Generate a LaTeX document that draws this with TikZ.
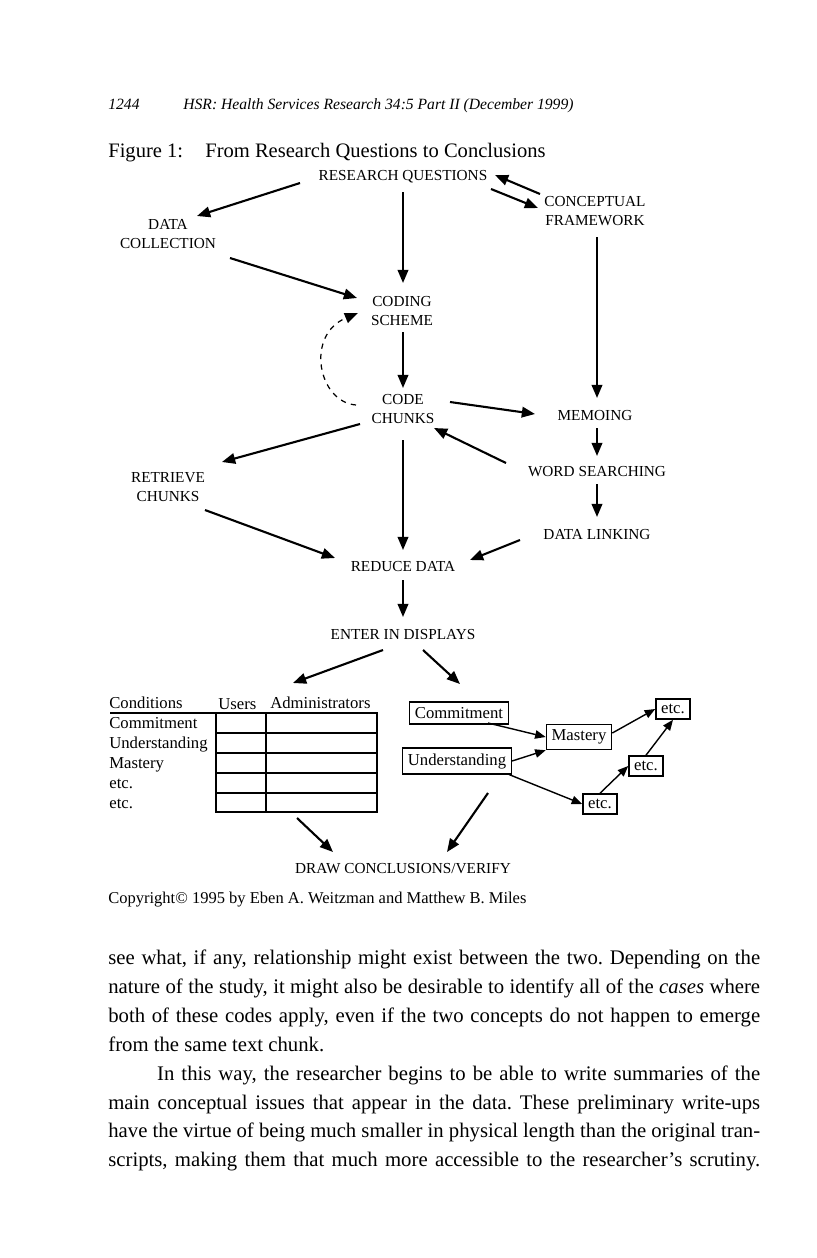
\documentclass[tikz,border=0pt]{standalone}
\usepackage{fontspec}
\setmainfont{Liberation Serif}
\usetikzlibrary{arrows.meta,calc}

\begin{document}
\begin{tikzpicture}[
    x=0.02cm, y=-0.02cm,
    lbl/.style={font=\fontsize{8.7}{10.8}\selectfont, align=center, inner sep=1pt},
    arrow/.style={-{Triangle[length=7.5pt,width=6pt]}, line width=1.2pt},
    cbox/.style={draw, line width=0.8pt, inner xsep=3pt, inner ysep=3pt, font=\fontsize{9.5}{11}\selectfont},
    sarrow/.style={-{Triangle[length=6pt,width=4.8pt]}, line width=0.8pt},
    tbl/.style={font=\fontsize{9.5}{11}\selectfont, inner sep=0pt, anchor=base west},
    grid/.style={line width=0.7pt}
]
\useasboundingbox (0,0) rectangle (816,1258);
\fill[white] (0,0) rectangle (816,1258);

% Page head and caption
\node[font=\fontsize{8.9}{11}\selectfont\itshape, anchor=base west, inner sep=0pt] (pnum) at (108,109) {1244};
\node[font=\fontsize{8.9}{11}\selectfont\itshape, anchor=base west, inner sep=0pt] (jrnl) at (183,109) {HSR: Health Services Research 34:5 Part II (December 1999)};
\node[font=\fontsize{11.7}{14}\selectfont, anchor=base west, inner sep=0pt] (fignum) at (108,157) {Figure 1:};
\node[font=\fontsize{11.7}{14}\selectfont, anchor=base west, inner sep=0pt] (figttl) at (205,157) {From Research Questions to Conclusions};

% Flow
\node[lbl] (rq) at (403,177) {RESEARCH QUESTIONS};
\node[lbl] (cf) at (595,211) {CONCEPTUAL\\FRAMEWORK};
\node[lbl] (dc) at (168,234) {DATA\\COLLECTION};
\node[lbl] (cs) at (402,311) {CODING\\SCHEME};
\node[lbl] (cc) at (403,409) {CODE\\CHUNKS};
\node[lbl] (mem) at (595,416) {MEMOING};
\node[lbl] (rc) at (168,487) {RETRIEVE\\CHUNKS};
\node[lbl] (ws) at (597,472) {WORD SEARCHING};
\node[lbl] (dl) at (597,535) {DATA LINKING};
\node[lbl] (rd) at (403,567) {REDUCE DATA};
\node[lbl] (ed) at (403,635) {ENTER IN DISPLAYS};
\node[lbl] (dcv) at (403,869) {DRAW CONCLUSIONS/VERIFY};

% Matrix display
\draw[grid] (110,713) -- (377,713);
\draw[grid] (216,713) rectangle (377,812);
\draw[grid] (266,713) -- (266,812);
\foreach \yy in {733,753,773,793}
    \draw[grid] (216,\yy) -- (377,\yy);
\node[tbl] (cond) at (109,708) {Conditions};
\node[tbl] (users) at (218,709) {Users};
\node[tbl] (admin) at (270,708) {Administrators};
\node[tbl] (rcmt) at (109,728) {Commitment};
\node[tbl] (rund) at (109,748) {Understanding};
\node[tbl] (rmas) at (109,768) {Mastery};
\node[tbl] (retca) at (109,788) {etc.};
\node[tbl] (retcb) at (109,808) {etc.};
\coordinate (tbltop) at (293,683);
\coordinate (tblbot) at (297,818);

% Network display
\node[cbox] (cmt) at (459,713) {Commitment};
\node[cbox] (und) at (457,761) {Understanding};
\node[cbox] (mas) at (579,737) {Mastery};
\node[cbox] (etct) at (673,709) {etc.};
\node[cbox] (etcm) at (646,766) {etc.};
\node[cbox] (etcb) at (600,804) {etc.};

\node[font=\fontsize{9.4}{12}\selectfont, anchor=base west, inner sep=0pt] (copy) at (108,903) {Copyright© 1995 by Eben A. Weitzman and Matthew B. Miles};

% Arrows
\draw[arrow] ($(rq)+(-103,6)$) -- ($(dc)+(29,-18)$);
\draw[arrow] ($(cf)+(-55,-17)$) -- ($(rq)+(92,-2)$);
\draw[arrow] ($(rq)+(88,12)$) -- ($(cf)+(-57,-3)$);
\draw[arrow] ($(rq)+(0,15)$) -- ($(cs)+(1,-28)$);
\draw[arrow] ($(dc)+(62,24)$) -- ($(cs)+(-45,-13)$);
\draw[arrow] ($(cs)+(1,21)$) -- ($(cc)+(0,-21)$);
\draw[arrow, line width=0.7pt, dashed] ($(cc)+(-47,-4)$) .. controls ($(cc)+(-85,-7)$) and ($(cs)+(-97,24)$) .. ($(cs)+(-44,2)$);
\draw[arrow] ($(cf)+(2,26)$) -- ($(mem)+(2,-18)$);
\draw[arrow] ($(cc)+(47,-7)$) -- ($(mem)+(-60,-2)$);
\draw[arrow] ($(mem)+(2,12)$) -- ($(ws)+(0,-16)$);
\draw[arrow] ($(ws)+(-91,-9)$) -- ($(cc)+(31,19)$);
\draw[arrow] ($(cc)+(-43,15)$) -- ($(rc)+(54,-25)$);
\draw[arrow] ($(cc)+(0,31)$) -- ($(rd)+(0,-17)$);
\draw[arrow] ($(rc)+(37,23)$) -- ($(rd)+(-68,-9)$);
\draw[arrow] ($(ws)+(0,12)$) -- ($(dl)+(0,-18)$);
\draw[arrow] ($(dl)+(-77,5)$) -- ($(rd)+(67,-7)$);
\draw[arrow] ($(rd)+(0,13)$) -- ($(ed)+(0,-18)$);
\draw[arrow] ($(ed)+(-20,15)$) -- (tbltop);
\draw[arrow] ($(ed)+(20,15)$) -- ($(cmt)+(1,-29)$);
\draw[arrow] (tblbot) -- ($(dcv)+(-70,-17)$);
\draw[arrow] ($(und)+(31,32)$) -- ($(dcv)+(44,-17)$);

\draw[sarrow] ($(cmt)+(29,10)$) -- (mas.west);
\draw[sarrow] (und.east) -- (mas.south west);
\draw[sarrow] ($(und.south east)+(-3,0)$) -- (etcb.west);
\draw[sarrow] ($(mas.east)+(0,-4)$) -- (etct.west);
\draw[sarrow] (etcb.north) -- (etcm.west);
\draw[sarrow] (etcm.north) -- (etct.south);

% Running text
\node[anchor=north west, text width=371pt, align=justify, inner sep=0pt, font=\fontsize{11.8}{16.4}\selectfont\frenchspacing] (body) at (108,950) {see what, if any, relationship might exist between the two. Depending on the\linebreak nature of the study, it might also be desirable to identify all of the \textit{cases} where\linebreak both of these codes apply, even if the two concepts do not happen to emerge\linebreak from the same text chunk.\par
\hspace*{27.8pt}In this way, the researcher begins to be able to write summaries of the\linebreak main conceptual issues that appear in the data. These preliminary write-ups\linebreak have the virtue of being much smaller in physical length than the original tran-\linebreak scripts, making them that much more accessible to the researcher’s scrutiny.{\parfillskip=0pt\par}};

\end{tikzpicture}
\end{document}
